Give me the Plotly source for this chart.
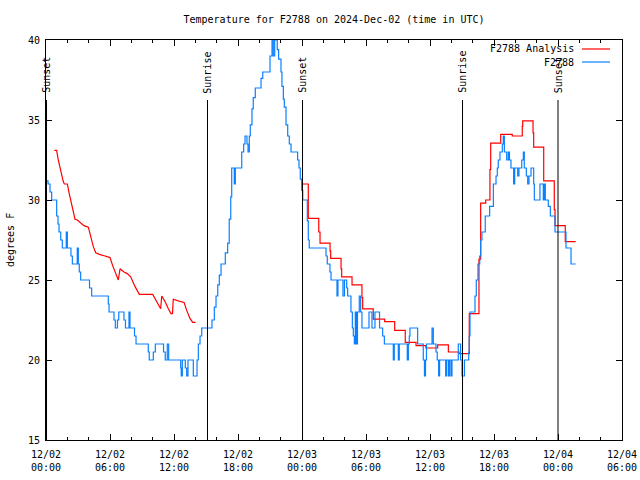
import pandas as pd
import plotly.graph_objects as go

START = pd.Timestamp("2024-12-02 00:00")

# Observations (F2788), hours since 2024-12-02 00:00 UTC
obs_hours = [
    0.0, 0.19, 0.375, 0.53, 1.0, 1.125, 1.22, 1.38, 1.53, 1.90,
    2.0, 2.34, 2.47, 2.93, 3.03, 3.12, 3.25, 4.08, 4.28, 5.84,
    5.91, 6.375, 6.50, 6.70, 6.82, 7.31, 7.45, 7.78, 7.875, 8.30,
    8.44, 9.59, 9.68, 10.06, 10.25, 11.02, 11.18, 11.37, 11.50, 12.63,
    12.68, 12.78, 13.06, 13.19, 13.31, 13.81, 14.16, 14.28, 14.44, 14.60,
    15.56, 15.78, 15.94, 16.10, 16.25, 16.41, 16.81, 17.03, 17.18, 17.32,
    17.41, 17.65, 17.75, 18.35, 18.53, 18.66, 18.84, 18.94, 19.06, 19.15,
    19.31, 19.43, 19.62, 20.16, 20.32, 21.0, 21.19, 21.31, 21.44, 21.68,
    21.81, 22.03, 22.12, 22.25, 22.34, 22.50, 22.66, 22.81, 22.97, 23.59,
    23.72, 23.84, 23.97, 24.07, 24.50, 24.59, 24.68, 26.25, 26.37, 26.62,
    26.72, 27.28, 27.37, 27.84, 27.98, 28.19, 28.28, 28.59, 28.72, 28.81,
    28.91, 29.0, 29.11, 29.2, 29.37, 29.50, 29.62, 30.28, 30.56, 30.84,
    31.27, 31.56, 31.72, 32.56, 32.65, 33.03, 33.12, 33.87, 33.97, 34.06,
    34.12, 34.84, 35.37, 35.48, 35.58, 35.67, 36.19, 36.31, 36.56, 36.68,
    36.81, 36.9, 37.47, 37.56, 37.73, 37.83, 37.97, 38.06, 38.65, 38.87,
    39.0, 39.23, 39.63, 39.68, 39.75, 40.22, 40.34, 40.5, 40.66, 40.75,
    40.87, 41.18, 41.59, 41.94, 42.19, 42.31, 42.40, 42.56, 42.78, 42.87,
    42.97, 43.19, 43.34, 43.45, 43.59, 43.84, 43.94, 44.22, 44.34, 44.60,
    44.75, 44.84, 45.03, 45.16, 45.28, 45.47, 45.72, 45.78, 46.31, 46.62,
    46.72, 46.81, 47.09, 47.28, 47.72, 48.75, 49.22, 49.66,
]
obs_temp = [
    31.2, 31.0, 30.5, 30.0, 29.0, 28.5, 28.0, 27.5, 27.0, 28.0,
    27.0, 26.5, 26.0, 27.0, 26.0, 25.5, 25.0, 24.5, 24.0, 23.5,
    23.0, 22.5, 22.0, 22.5, 23.0, 22.5, 22.0, 23.0, 22.0, 21.5,
    21.0, 20.5, 20.0, 20.5, 21.0, 20.5, 20.0, 21.0, 20.0, 19.5,
    19.0, 20.0, 19.5, 19.0, 20.0, 19.0, 20.0, 21.0, 21.5, 22.0,
    22.5, 23.3, 24.0, 24.7, 25.3, 26.0, 26.7, 27.3, 28.8, 30.2,
    32.0, 31.0, 32.0, 33.0, 33.5, 34.0, 33.5, 33.0, 34.0, 34.7,
    35.7, 36.4, 37.0, 37.6, 38.0, 39.0, 40.0, 39.0, 40.0, 39.4,
    38.8, 38.0, 37.1, 36.3, 35.8, 34.7, 34.0, 33.5, 33.0, 32.5,
    32.0, 31.3, 30.6, 30.0, 28.7, 27.5, 27.0, 26.5, 26.0, 25.5,
    25.0, 24.0, 25.0, 24.0, 25.0, 24.5, 24.0, 23.0, 22.0, 21.5,
    21.0, 23.0, 21.0, 23.0, 24.0, 23.0, 22.0, 23.0, 22.0, 23.0,
    22.0, 21.5, 21.0, 20.0, 21.0, 20.0, 21.0, 20.0, 21.0, 21.5,
    22.0, 21.0, 20.0, 19.0, 20.0, 21.0, 22.0, 21.0, 20.5, 20.0,
    19.0, 20.0, 19.0, 20.0, 19.0, 20.0, 19.0, 20.0, 21.0, 20.0,
    19.0, 20.0, 20.5, 21.5, 23.0, 24.0, 25.0, 26.0, 26.5, 27.5,
    28.0, 29.0, 29.6, 31.0, 31.5, 32.0, 32.5, 33.0, 33.5, 34.0,
    33.0, 32.5, 33.0, 32.5, 32.0, 31.0, 32.0, 31.5, 32.0, 32.5,
    33.0, 32.0, 31.5, 31.0, 31.5, 32.0, 31.0, 30.0, 31.0, 30.0,
    31.0, 30.0, 29.6, 29.0, 28.0, 27.0, 26.0, 26.0,
]

# Analysis, first run (12/02)
ana1_hours = [
    0.78, 1.0, 1.15, 1.38, 1.62, 1.72, 2.0, 2.18, 2.34, 2.56,
    2.72, 2.93, 3.19, 3.56, 3.97, 4.19, 4.43, 4.66, 5.0, 5.53,
    6.0, 6.25, 6.47, 6.78, 6.94, 7.31, 7.62, 7.94, 8.34, 8.75,
    10.0, 10.38, 10.75, 10.85, 11.16, 11.47, 11.72, 11.86, 11.93, 12.40,
    12.94, 13.19, 13.50, 13.75, 14.03,
]
ana1_temp = [
    33.1, 33.1, 32.5, 31.8, 31.15, 31.0, 31.0, 30.4, 29.9, 29.2,
    28.8, 28.75, 28.6, 28.4, 28.3, 27.7, 27.1, 26.7, 26.6, 26.5,
    26.4, 25.9, 25.5, 25.0, 25.7, 25.5, 25.4, 25.2, 24.6, 24.1,
    24.1, 23.65, 23.2, 24.0, 23.65, 23.2, 22.9, 22.9, 23.8, 23.7,
    23.6, 23.1, 22.6, 22.35, 22.35,
]

# Analysis, second run (12/03 - 12/04)
ana2_hours = [
    23.97, 24.59, 25.57, 25.69, 26.63, 26.69, 27.66, 27.72, 28.69, 29.62,
    29.69, 30.68, 31.75, 32.69, 33.68, 34.69, 35.62, 36.72, 37.72, 38.72,
    39.68, 40.59, 40.75, 41.22, 41.62, 41.69, 42.63, 43.71, 44.65, 44.69,
    45.66, 45.72, 46.66, 47.65, 47.72, 48.68, 49.66,
]
ana2_temp = [
    31.0, 28.85, 28.0, 27.3, 26.8, 26.35, 25.7, 25.2, 24.7, 23.9,
    23.2, 22.55, 22.4, 21.85, 21.1, 20.9, 20.75, 20.95, 20.5, 20.4,
    22.9, 26.3, 29.8, 30.0, 31.9, 33.55, 34.1, 34.0, 34.6, 34.95,
    34.2, 33.3, 31.2, 29.4, 28.4, 27.4, 27.4,
]

sun_hours = [0.05, 15.14, 24.05, 39.05, 48.0]
sun_labels = ["Sunset", "Sunrise", "Sunset", "Sunrise", "Sunset"]

legend_names = ["F2788 Analysis", "F2788"]
legend_colors = ["#ff0000", "#0a80ff"]

FONT = "DejaVu Sans Mono"


def to_time(hours):
    return [START + pd.Timedelta(hours=h) for h in hours]


fig = go.Figure()
fig.add_trace(go.Scatter(x=to_time(ana1_hours), y=ana1_temp, mode="lines",
                         line=dict(color=legend_colors[0], width=1.2),
                         name=legend_names[0], showlegend=False))
fig.add_trace(go.Scatter(x=to_time(ana2_hours), y=ana2_temp, mode="lines",
                         line=dict(color=legend_colors[0], width=1.2, shape="hv"),
                         name=legend_names[0], showlegend=False))
fig.add_trace(go.Scatter(x=to_time(obs_hours), y=obs_temp, mode="lines",
                         line=dict(color=legend_colors[1], width=1.2, shape="hv"),
                         name=legend_names[1], showlegend=False))

for h, lab in zip(sun_hours, sun_labels):
    t = START + pd.Timedelta(hours=h)
    fig.add_shape(type="line", xref="x", yref="paper", x0=t, x1=t, y0=0, y1=0.85,
                  line=dict(color="black", width=1))
    fig.add_annotation(x=t, xref="x", y=0.862, yref="paper", text=lab,
                       textangle=-90, showarrow=False, xanchor="center",
                       yanchor="bottom", font=dict(family=FONT, size=10, color="black"))

# legend drawn gnuplot-style (text, then sample to the right)
for i, (name, col) in enumerate(zip(legend_names, legend_colors)):
    ypix = 49 + i * 13
    yp = (440 - ypix) / 400
    fig.add_annotation(x=(576 - 46) / 576, xref="paper", y=yp, yref="paper",
                       text=name, showarrow=False, xanchor="right", yanchor="middle",
                       font=dict(family=FONT, size=10, color="black"))
    fig.add_shape(type="line", xref="paper", yref="paper",
                  x0=(582 - 46) / 576, x1=(610 - 46) / 576, y0=yp, y1=yp,
                  line=dict(color=col, width=1.2))

# y-axis title placed like gnuplot's
fig.add_annotation(x=(10 - 46) / 576, xref="paper", y=0.5, yref="paper", text="degrees F",
                   textangle=-90, showarrow=False, xanchor="center", yanchor="middle",
                   font=dict(family=FONT, size=10, color="black"))

fig.update_layout(
    width=640, height=480,
    margin=dict(l=46, r=18, t=40, b=40, autoexpand=False),
    paper_bgcolor="white", plot_bgcolor="white",
    font=dict(family=FONT, size=10, color="black"),
    title=dict(text="Temperature for F2788 on 2024-Dec-02 (time in UTC)",
               x=334 / 640, xanchor="center", y=1 - 19 / 480, yanchor="middle",
               yref="container", font=dict(family=FONT, size=10, color="black")),
    showlegend=False,
)
fig.update_xaxes(
    type="date", automargin=False,
    range=[START, START + pd.Timedelta(hours=54)],
    tick0=START, dtick=6 * 3600 * 1000, tickformat="%m/%d<br>%H:%M",
    ticks="inside", ticklen=6, tickcolor="black", mirror="allticks",
    showline=True, linecolor="black", linewidth=1, showgrid=False, zeroline=False,
    minor=dict(dtick=2 * 3600 * 1000, ticks="inside", ticklen=3, tickcolor="black",
               showgrid=False),
    tickfont=dict(family=FONT, size=10, color="black"),
    ticklabelstandoff=5,
)
fig.update_yaxes(
    automargin=False,
    range=[15, 40], dtick=5, tick0=15,
    ticks="inside", ticklen=6, tickcolor="black", mirror="allticks",
    showline=True, linecolor="black", linewidth=1, showgrid=False, zeroline=False,
    tickfont=dict(family=FONT, size=10, color="black"),
    ticklabelstandoff=3,
)

fig.write_html("out.html", config={"displayModeBar": False},
               post_script="document.body.style.margin='0px';")
